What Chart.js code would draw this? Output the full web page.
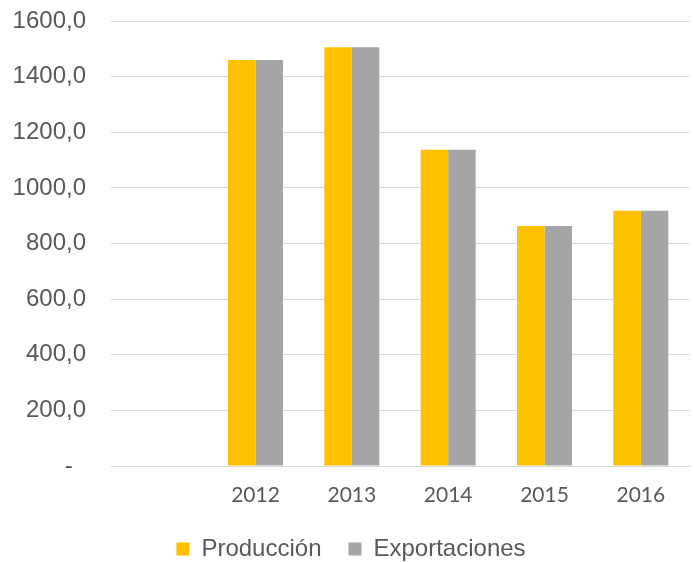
<!DOCTYPE html>
<html>
<head>
<meta charset="utf-8">
<script src="https://cdn.jsdelivr.net/npm/chart.js@4/dist/chart.umd.min.js"></script>
<style>
  html, body { margin: 0; padding: 0; background: #fff; }
  #wrap { width: 694px; height: 562px; }
</style>
</head>
<body>
<div id="wrap"><canvas id="myChart" width="694" height="562"></canvas></div>
<script>
var years = ['', '2012', '2013', '2014', '2015', '2016'];
var produccion = [null, 1460, 1506, 1137, 863, 918];
var exportaciones = [null, 1460, 1506, 1137, 863, 918];
var yTicks = [0, 200, 400, 600, 800, 1000, 1200, 1400, 1600];

var ctx = document.getElementById('myChart').getContext('2d');

var myChart = new Chart(ctx, {
    type: 'bar',
    data: {
        labels: years,
        datasets: [{
            label: 'Producción',
            data: produccion,
            backgroundColor: '#ffc000',
            borderWidth: 0
        }, {
            label: 'Exportaciones',
            data: exportaciones,
            backgroundColor: '#a5a5a5',
            borderWidth: 0
        }]
    },
    options: {
        responsive: false,
        animation: false,
        layout: { padding: { top: 0, right: 5, left: 13, bottom: -9 } },
        datasets: {
            bar: { categoryPercentage: 0.571, barPercentage: 1 }
        },
        plugins: {
            tooltip: { enabled: false },
            legend: {
                position: 'bottom',
                labels: {
                    boxWidth: 13,
                    boxHeight: 13,
                    padding: 27,
                    color: '#595959',
                    font: { family: 'Liberation Sans', size: 24 }
                }
            }
        },
        scales: {
            x: {
                grid: { display: false, drawTicks: false },
                border: { color: '#d9d9d9', width: 1 },
                ticks: {
                    color: '#595959',
                    padding: 17,
                    font: { family: 'Lato', size: 21 }
                },
                afterFit: function (axis) { axis.height = 44; }
            },
            y: {
                min: 0,
                max: 1600,
                afterBuildTicks: function (axis) {
                    axis.ticks = yTicks.map(function (v) { return { value: v }; });
                },
                afterFit: function (axis) {
                    axis.width = 98;
                    axis.paddingTop = 21;
                    axis.paddingBottom = 0;
                },
                grid: { color: '#d9d9d9', lineWidth: 1, drawTicks: false },
                border: { display: false },
                ticks: {
                    color: '#595959',
                    padding: 25,
                    font: { family: 'Liberation Sans', size: 24 },
                    callback: function (v) {
                        if (v === 0) return '-  ';
                        return v.toFixed(1).replace('.', ',');
                    }
                }
            }
        }
    }
});
</script>
</body>
</html>
